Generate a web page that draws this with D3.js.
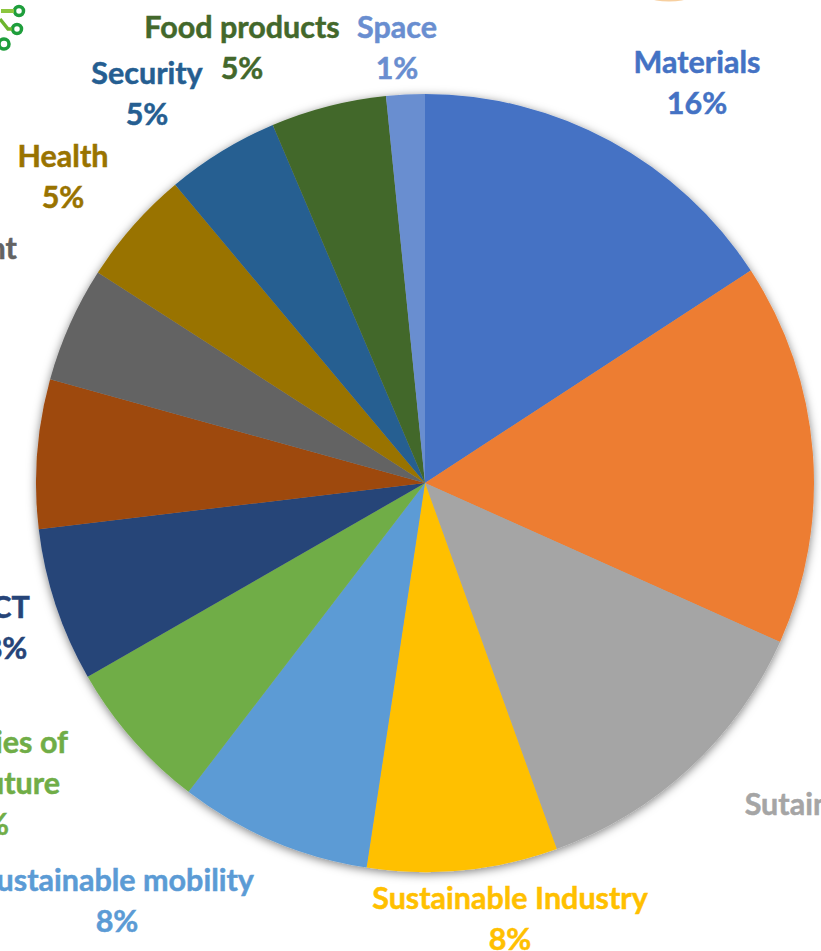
<!DOCTYPE html>
<html>
<head>
<meta charset="utf-8">
<script src="https://cdn.jsdelivr.net/npm/d3@7"></script>
<style>
  html, body { margin: 0; padding: 0; background: #fff; overflow: hidden; }
  text { font-family: Lato, "Open Sans", sans-serif; font-weight: 700; }
</style>
</head>
<body>
<div id="chart"></div>
<script>
const categories = ["Materials", "Energy", "Sutainable energy", "Sustainable Industry", "Sustainable mobility",
  "Technologies of the future", "ICT", "Construction", "Environment", "Health", "Security", "Food products", "Space"];
const values = [15.8, 15.9, 12.8, 7.9, 8, 6.3, 6.4, 6.2, 4.8, 4.8, 4.7, 4.8, 1.6];
const colors = ["#4472c4", "#ed7d31", "#a5a5a5", "#ffc000", "#5b9bd5", "#70ad47", "#264478",
  "#9e480e", "#636363", "#997300", "#255e91", "#43682b", "#698ed0"];
// some labels run off the picture, same as the cropped original
const labelLines = [
  ["Materials", "16%"], null, ["Sutainable energy", "13%"], ["Sustainable Industry", "8%"], ["Sustainable mobility", "8%"],
  ["Technologies of", "the future", "6%"], ["ICT", "8%"], null, ["Environment"], ["Health", "5%"],
  ["Security", "5%"], ["Food products", "5%"], ["Space", "1%"]
];

const labelX = [697, 0, 866, 510, 117, 0, 6, 0, -70, 63, 147, 242, 397];
const labelY = [73, 0, 815, 909, 891, 753, 618, 0, 259, 167, 84, 38, 38];
// right edges for the three line label, its lines are not centred on each other
const futureLineEnds = [68, 60, 9];
const futureIndex = categories.indexOf("Technologies of the future");

const width = 821, height = 951;
const cx = 425, cy = 483, radius = 389;

const svg = d3.select("#chart").append("svg")
  .attr("width", width)
  .attr("height", height)
  .style("display", "block");

const defs = svg.append("defs");
const shadow = defs.append("filter").attr("id", "shadow")
  .attr("x", "-10%").attr("y", "-10%").attr("width", "120%").attr("height", "120%");
shadow.append("feDropShadow")
  .attr("dx", 0).attr("dy", 2).attr("stdDeviation", 5)
  .attr("flood-color", "#000").attr("flood-opacity", 0.5);

const pie = d3.pie().sort(null).value((d) => d);
const arc = d3.arc().innerRadius(0).outerRadius(radius);

const g = svg.append("g")
  .attr("transform", `translate(${cx},${cy})`)
  .attr("filter", "url(#shadow)");

g.selectAll("path")
  .data(pie(values))
  .enter()
  .append("path")
  .attr("d", arc)
  .attr("fill", (d, i) => colors[i]);

// Data labels
categories.forEach((name, i) => {
  if (!labelLines[i]) return;
  const t = svg.append("text")
    .attr("text-anchor", i === futureIndex ? "end" : "middle")
    .attr("font-size", 30.5)
    .attr("fill", colors[i])
    .attr("stroke", colors[i])
    .attr("stroke-width", 0.5);
  labelLines[i].forEach((line, k) => {
    t.append("tspan")
      .attr("x", i === futureIndex ? futureLineEnds[k] : labelX[i])
      .attr("y", labelY[i] + k * 41)
      .text(line);
  });
});

// Bits of the slide artwork at the top edge
const logo = svg.append("g").attr("fill", "none").attr("stroke", "#1f9e3c").attr("stroke-width", 3.5);
logo.append("circle").attr("cx", 19).attr("cy", 11).attr("r", 4.5);
logo.append("circle").attr("cx", 17).attr("cy", 29).attr("r", 4.5);
logo.append("circle").attr("cx", 4).attr("cy", 44).attr("r", 5);
logo.append("path").attr("d", d3.line()([[1, 11], [14, 11]])).attr("stroke", "#8cc63f").attr("stroke-width", 4);
logo.append("path").attr("d", d3.line()([[0, 19], [8, 29], [12, 29]])).attr("stroke", "#6cb52d");
svg.append("ellipse")
  .attr("cx", 669).attr("cy", -2).attr("rx", 18).attr("ry", 3.5)
  .attr("fill", "#f7cf9f");
</script>
</body>
</html>
